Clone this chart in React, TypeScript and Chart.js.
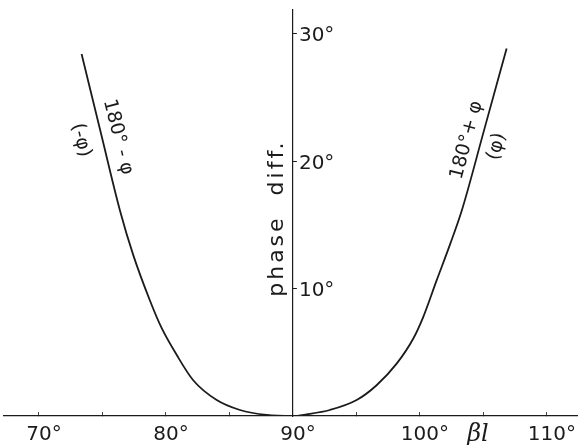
import { useEffect, useRef } from "react";
import { Chart, registerables } from "chart.js";

Chart.register(...registerables);

// βl in degrees and the matching phase difference in degrees
const betaL = [73.36, 74.87, 76.38, 77.43, 78.74, 79.66, 80.84, 82.15, 84.0, 85.83, 87.93, 90, 91.08, 92.91, 95.02, 96.59, 98.17, 99.47, 100.26, 101.31, 102.36, 103.28, 105.06, 106.83];
const phaseDiff = [28.35, 22.2, 16.1, 12.6, 9.05, 6.9, 4.8, 2.8, 1.25, 0.47, 0.08, 0, 0.13, 0.47, 1.25, 2.41, 4.1, 6.05, 7.75, 10.6, 13.4, 16.03, 22.41, 28.79];

const xTicks = [70, 75, 80, 85, 90, 95, 100, 105, 110];
const xLabelled = [70, 80, 90, 100, 110];
const yTicks = [10, 20, 30];

const yTitle = "phase  diff.";
const xTitle = "βl";

// curve annotations, anchored in data coordinates
const curveNotes = [
  { text: "180° - φ", x: 76.22, y: 21.85, angle: 76, size: 19 },
  { text: "(-φ)", x: 73.31, y: 21.6, angle: 76, size: 19 },
  { text: "180°+ φ", x: 103.7, y: 21.6, angle: -75, size: 19 },
  { text: "(φ)", x: 106.06, y: 21.1, angle: -75, size: 19 },
];

const INK = "#1b1b1b";
const FONT = '"DejaVu Sans", sans-serif';

const decorations = {
  id: "decorations",
  beforeDraw(chart: any) {
    const { ctx, width, height } = chart;
    ctx.save();
    ctx.fillStyle = "#ffffff";
    ctx.fillRect(0, 0, width, height);
    ctx.restore();
  },
  afterDraw(chart: any) {
    const { ctx } = chart;
    const xs = chart.scales.x;
    const ys = chart.scales.y;
    const ax = xs.getPixelForValue(90);
    ctx.save();
    ctx.fillStyle = INK;
    ctx.strokeStyle = INK;

    // y ticks and their labels to the right of the centre axis
    ctx.lineWidth = 1;
    ctx.font = `20px ${FONT}`;
    ctx.textAlign = "left";
    ctx.textBaseline = "middle";
    yTicks.forEach((v) => {
      const py = Math.round(ys.getPixelForValue(v)) + 0.5;
      ctx.beginPath();
      ctx.moveTo(ax, py);
      ctx.lineTo(ax + 4, py);
      ctx.stroke();
      ctx.fillText(`${v}°`, ax + 6, py + 2);
    });

    // axis title along the centre axis
    ctx.save();
    ctx.translate(ax - 10, ys.getPixelForValue(15.5));
    ctx.rotate(-Math.PI / 2);
    ctx.font = `22px ${FONT}`;
    (ctx as any).letterSpacing = "3px";
    ctx.textAlign = "center";
    ctx.textBaseline = "alphabetic";
    ctx.fillText(yTitle, 0, 0);
    ctx.restore();

    // βl next to the horizontal axis
    ctx.font = `italic 24px "DejaVu Serif", serif`;
    ctx.textAlign = "center";
    ctx.textBaseline = "middle";
    ctx.fillText(xTitle, xs.getPixelForValue(104.57), xs.top + 19);

    // notes along each branch of the curve
    curveNotes.forEach((n) => {
      ctx.save();
      ctx.translate(xs.getPixelForValue(n.x), ys.getPixelForValue(n.y));
      ctx.rotate((n.angle * Math.PI) / 180);
      ctx.font = `${n.size}px ${FONT}`;
      ctx.textAlign = "center";
      ctx.textBaseline = "middle";
      ctx.fillText(n.text, 0, 0);
      ctx.restore();
    });
    ctx.restore();
  },
};

export default function App() {
  const canvasRef = useRef<HTMLCanvasElement | null>(null);

  useEffect(() => {
    if (!canvasRef.current) return;
    const chart = new Chart(canvasRef.current, {
      type: "line",
      data: {
        datasets: [
          {
            data: betaL.map((b, i) => ({ x: b, y: phaseDiff[i] })),
            borderColor: INK,
            borderWidth: 1.8,
            pointRadius: 0,
            cubicInterpolationMode: "monotone",
            fill: false,
          },
        ],
      },
      options: {
        responsive: false,
        devicePixelRatio: 1,
        animation: false,
        events: [],
        layout: { padding: { left: 4, right: 0, top: 10, bottom: 0 } },
        plugins: { legend: { display: false }, tooltip: { enabled: false }, title: { display: false } },
        scales: {
          x: {
            type: "linear",
            position: "bottom",
            min: 67.25,
            max: 112.45,
            afterBuildTicks: (s: any) => {
              s.ticks = xTicks.map((v) => ({ value: v }));
            },
            afterFit: (s: any) => {
              s.height = 29;
              s.paddingLeft = 0;
              s.paddingRight = 0;
            },
            grid: { display: true, drawOnChartArea: false, drawTicks: true, tickLength: -4, color: "#444", lineWidth: 1 },
            border: { display: true, color: INK, width: 1.3 },
            ticks: {
              color: INK,
              font: { family: FONT, size: 20 },
              padding: 11,
              labelOffset: 5,
              maxRotation: 0,
              autoSkip: false,
              callback: (v: any) => (xLabelled.includes(Number(v)) ? `${v}°` : ""),
            },
          },
          y: {
            type: "linear",
            position: { x: 90 } as any,
            min: 0,
            max: 31.8,
            afterBuildTicks: (s: any) => {
              s.ticks = yTicks.map((v) => ({ value: v }));
            },
            grid: { display: false },
            border: { display: true, color: INK, width: 1.2 },
            ticks: { display: false },
          },
        },
      },
      plugins: [decorations],
    } as any);
    return () => chart.destroy();
  }, []);

  return (
    <div style={{ position: "fixed", left: 0, top: 0, width: 578, height: 445, background: "#fff" }}>
      <canvas ref={canvasRef} width={578} height={445} style={{ display: "block" }} />
    </div>
  );
}
